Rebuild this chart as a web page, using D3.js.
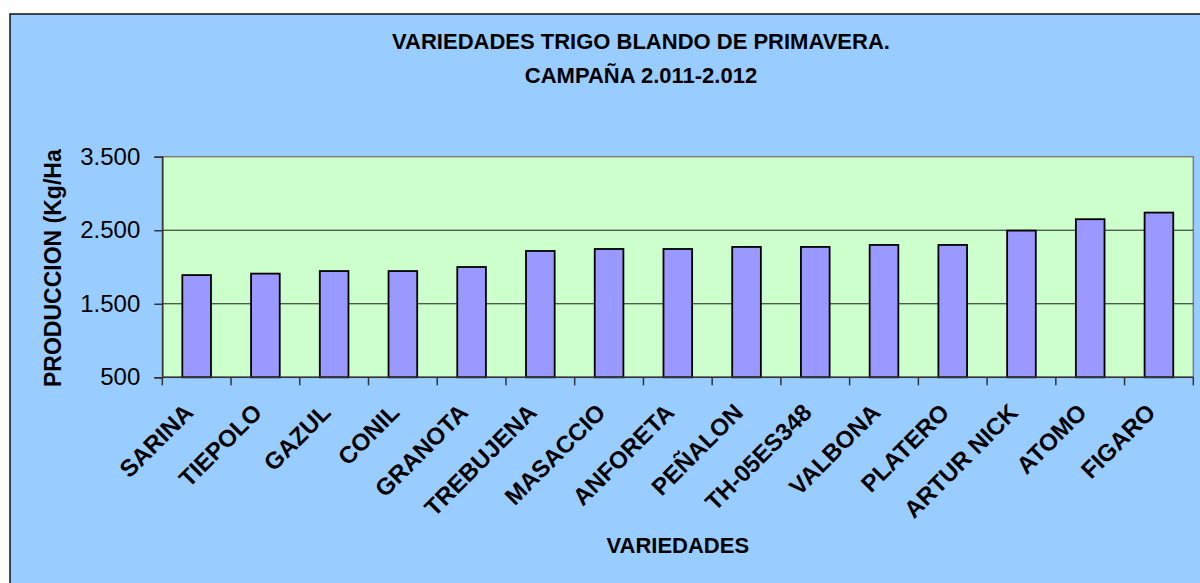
<!DOCTYPE html>
<html>
<head>
<meta charset="utf-8">
<script src="https://cdn.jsdelivr.net/npm/d3@7"></script>
<style>
  body { margin: 0; background: #fff; }
  svg { display: block; font-family: Arial, "Liberation Sans", sans-serif; }
</style>
</head>
<body>
<div id="chart"></div>
<script>
var w = 1200;
var h = 583;

// values
var varieties = ["SARINA", "TIEPOLO", "GAZUL", "CONIL", "GRANOTA", "TREBUJENA", "MASACCIO",
                 "ANFORETA", "PEÑALON", "TH-05ES348", "VALBONA", "PLATERO", "ARTUR NICK",
                 "ATOMO", "FIGARO"];
var production = [1890, 1910, 1945, 1945, 2000, 2218, 2245, 2245, 2273, 2273, 2300, 2300, 2495, 2650, 2740];
var yTicks = [500, 1500, 2500, 3500];

var titleLines = ["VARIEDADES TRIGO BLANDO DE PRIMAVERA.", "CAMPAÑA 2.011-2.012"];
var yTitle = "PRODUCCION (Kg/Ha";
var xTitle = "VARIEDADES";

var plot = {left: 162.3, right: 1193.3, top: 156.7, bottom: 377.3};

var esFormat = d3.formatLocale({decimal: ",", thousands: ".", grouping: [3], currency: ["", ""]}).format(",");

var svg = d3.select("#chart")
            .append("svg")
                .attr("width", w)
                .attr("height", h);

// chart frame
svg.append("rect")
    .attr("x", 10).attr("y", 14)
    .attr("width", w + 20).attr("height", h)
    .attr("fill", "#99CCFF")
    .attr("stroke", "#111")
    .attr("stroke-width", 1.5);

// plot area
svg.append("rect")
    .attr("x", plot.left).attr("y", plot.top)
    .attr("width", plot.right - plot.left).attr("height", plot.bottom - plot.top)
    .attr("fill", "#CCFFCC")
    .attr("stroke", "#808080")
    .attr("stroke-width", 1.5);

var x = d3.scaleBand()
    .domain(varieties)
    .range([plot.left, plot.right]);

var barPad = 0.583;
var barW = x.bandwidth() * (1 - barPad);

var y = d3.scaleLinear()
    .domain([500, 3500])
    .range([plot.bottom, plot.top]);

// gridlines
svg.append("g")
    .selectAll("line")
    .data(yTicks.slice(1, -1))
    .enter()
        .append("line")
        .attr("x1", plot.left).attr("x2", plot.right)
        .attr("y1", function(d) { return y(d); })
        .attr("y2", function(d) { return y(d); })
        .attr("stroke", "#222")
        .attr("stroke-width", 1);

// bars
svg.append("g")
    .selectAll("rect")
    .data(production)
    .enter()
        .append("rect")
        .attr("x", function(d, i) { return x(varieties[i]) + (x.bandwidth() - barW) / 2; })
        .attr("y", function(d) { return y(d); })
        .attr("width", barW)
        .attr("height", function(d) { return y(500) - y(d); })
        .attr("fill", "#9999FF")
        .attr("stroke", "#000")
        .attr("stroke-width", 1.8);

// y axis
var yAxis = svg.append("g")
    .attr("transform", "translate(" + plot.left + ",0)")
    .call(d3.axisLeft(y).tickValues(yTicks).tickSize(8).tickPadding(14).tickFormat(esFormat));
yAxis.select(".domain").attr("stroke", "#333").attr("stroke-width", 1.5);
yAxis.selectAll(".tick line").attr("stroke", "#333").attr("stroke-width", 1.5);
yAxis.selectAll(".tick text")
    .attr("font-size", 24)
    .attr("fill", "#000")
    .attr("font-family", "Arial, 'Liberation Sans', sans-serif");

// x axis line and ticks at the band edges
var xEdges = varieties.map(function(d) { return x(d); }).concat([plot.right]);
svg.append("line")
    .attr("x1", plot.left).attr("x2", plot.right)
    .attr("y1", plot.bottom).attr("y2", plot.bottom)
    .attr("stroke", "#333").attr("stroke-width", 1.5);
svg.append("g")
    .selectAll("line")
    .data(xEdges)
    .enter()
        .append("line")
        .attr("x1", function(d) { return d; }).attr("x2", function(d) { return d; })
        .attr("y1", plot.bottom).attr("y2", plot.bottom + 8)
        .attr("stroke", "#333").attr("stroke-width", 1.5);

// category labels
svg.append("g")
    .selectAll("text")
    .data(varieties)
    .enter()
        .append("text")
        .attr("transform", function(d) {
            return "translate(" + (x(d) + x.bandwidth() / 2 - 2) + "," + 414 + ") rotate(-45)";
        })
        .attr("text-anchor", "end")
        .attr("font-size", 24)
        .attr("font-weight", "bold")
        .text(function(d) { return d; });

// titles
svg.append("g")
    .selectAll("text")
    .data(titleLines)
    .enter()
        .append("text")
        .attr("x", 641)
        .attr("y", function(d, i) { return 49 + i * 34; })
        .attr("text-anchor", "middle")
        .attr("font-size", 22)
        .attr("font-weight", "bold")
        .text(function(d) { return d; });

svg.append("text")
    .attr("transform", "translate(61,387) rotate(-90)")
    .attr("text-anchor", "start")
    .attr("font-size", 23)
    .attr("font-weight", "bold")
    .text(yTitle);

svg.append("text")
    .attr("x", (plot.left + plot.right) / 2)
    .attr("y", 553)
    .attr("text-anchor", "middle")
    .attr("font-size", 22)
    .attr("font-weight", "bold")
    .text(xTitle);
</script>
</body>
</html>
